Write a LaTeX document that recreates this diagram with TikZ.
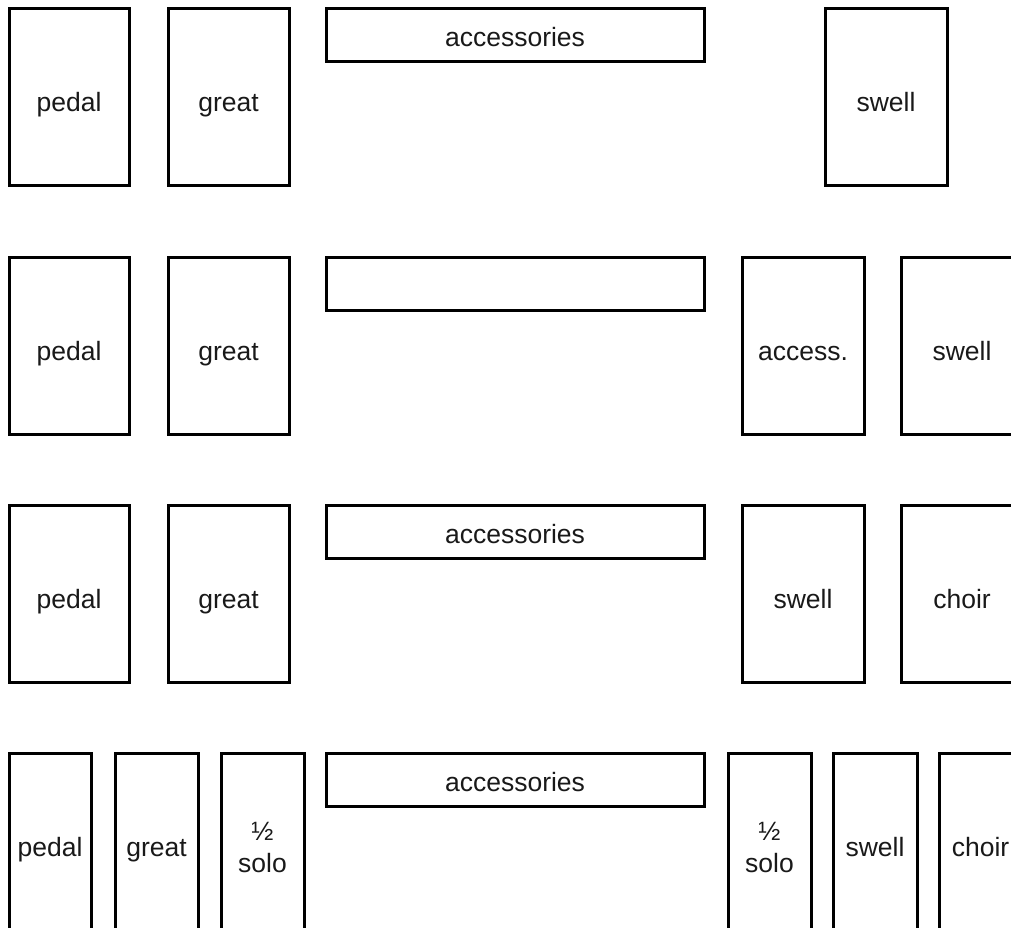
\documentclass[tikz,border=0pt]{standalone}
\usepackage{fontspec}
\setmainfont{Liberation Sans}
\newcommand{\bx}[5]{\node[box,minimum width=#4pt,minimum height=#5pt] (#1) at (#2,#3) {};}
\newcommand{\tx}[4]{\node[lbl] (#1) at (#2,#3) {#4};}
\begin{document}
\begin{tikzpicture}[x=1pt,y=-1pt,
  box/.style={draw=black,line width=3pt,rectangle,inner sep=0pt,outer sep=0pt,anchor=north west},
  lbl/.style={font=\fontsize{26.5}{32}\selectfont,anchor=base,inner sep=0pt,text=black!90}]
\useasboundingbox (0,0) rectangle (1011,928);
\clip (0,0) rectangle (1011,928);
% Row 1
\bx{pedalA}{9}{9}{120}{177}
\bx{greatA}{168}{9}{121}{177}
\bx{accA}{326}{9}{378}{53}
\bx{swellA}{825}{9}{122}{177}
\tx{tpedalA}{69}{112}{pedal}
\tx{tgreatA}{228.5}{112}{great}
\tx{taccA}{515}{47}{accessories}
\tx{tswellA}{886}{112}{swell}
% Row 2
\bx{pedalB}{9}{257}{120}{177}
\bx{greatB}{168}{257}{121}{177}
\bx{accB}{326}{257}{378}{53}
\bx{accessB}{742}{257}{122}{177}
\bx{swellB}{901}{257}{122}{177}
\tx{tpedalB}{69}{360}{pedal}
\tx{tgreatB}{228.5}{360}{great}
\tx{taccessB}{803}{360}{access.}
\tx{tswellB}{962}{360}{swell}
% Row 3
\bx{pedalC}{9}{505}{120}{177}
\bx{greatC}{168}{505}{121}{177}
\bx{accC}{326}{505}{378}{53}
\bx{swellC}{742}{505}{122}{177}
\bx{choirC}{901}{505}{122}{177}
\tx{tpedalC}{69}{608}{pedal}
\tx{tgreatC}{228.5}{608}{great}
\tx{taccC}{515}{543}{accessories}
\tx{tswellC}{803}{608}{swell}
\tx{tchoirC}{962}{608}{choir}
% Row 4
\bx{pedalD}{9}{753}{82}{177}
\bx{greatD}{115}{753}{83}{177}
\bx{soloLD}{221}{753}{83}{177}
\bx{accD}{326}{753}{378}{53}
\bx{soloRD}{728}{753}{83}{177}
\bx{swellD}{833}{753}{84}{177}
\bx{choirD}{939}{753}{83}{177}
\tx{tpedalD}{50}{856}{pedal}
\tx{tgreatD}{156.5}{856}{great}
\tx{thalfLD}{262.5}{840}{½}
\tx{tsoloLD}{262.5}{872}{solo}
\tx{taccD}{515}{791}{accessories}
\tx{thalfRD}{769.5}{840}{½}
\tx{tsoloRD}{769.5}{872}{solo}
\tx{tswellD}{875}{856}{swell}
\tx{tchoirD}{980.5}{856}{choir}
\end{tikzpicture}
\end{document}
